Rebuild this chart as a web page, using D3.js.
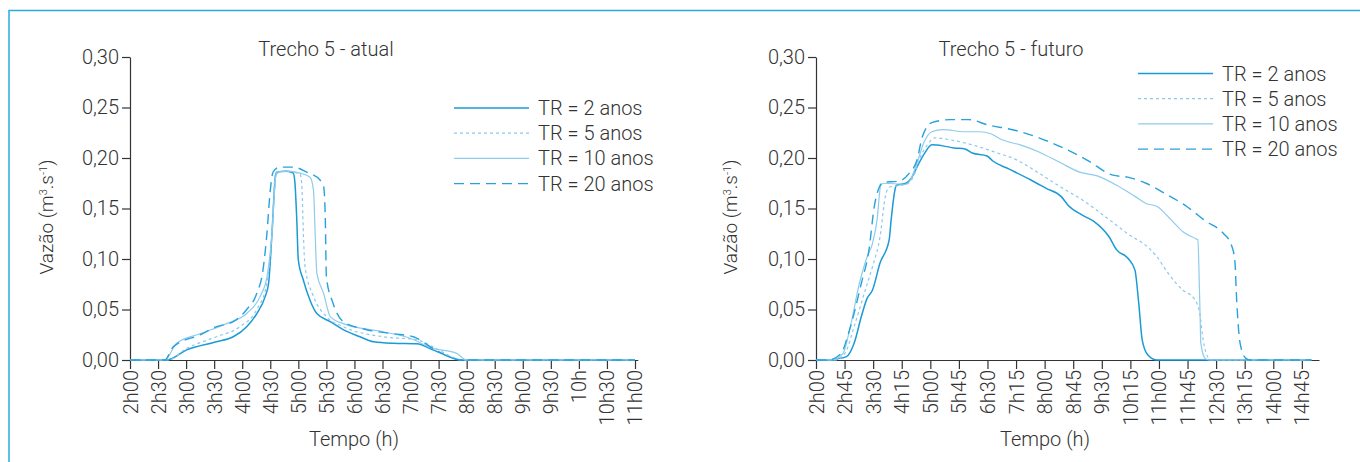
<!DOCTYPE html>
<html>
<head>
<meta charset="utf-8">
<script src="https://cdn.jsdelivr.net/npm/d3@7"></script>
<style>
  body { margin: 0; background: #fff; }
  text { font-family: Roboto, "Open Sans", sans-serif; font-weight: 300; fill: #333; }
</style>
</head>
<body>
<svg id="chart" width="1360" height="462"></svg>
<script>
// tick labels
var yTicks = [0, 0.05, 0.10, 0.15, 0.20, 0.25, 0.30];
var atualTickLabels = ["2h00","2h30","3h00","3h30","4h00","4h30","5h00","5h30","6h00","6h30",
  "7h00","7h30","8h00","8h30","9h00","9h30","10h","10h30","11h00"];
var futuroTickLabels = ["2h00","2h45","3h30","4h15","5h00","5h45","6h30","7h15","8h00","8h45",
  "9h30","10h15","11h00","11h45","12h30","13h15","14h00","14h45"];
var seriesNames = ["TR = 2 anos", "TR = 5 anos", "TR = 10 anos", "TR = 20 anos"];

// Trecho 5 - atual  [hora, vazão]
var atualTR2 = [[2,0],[2.66,0],[3.01,0.010],[3.54,0.018],[3.84,0.023],[4.08,0.033],[4.26,0.046],
  [4.41,0.063],[4.47,0.076],[4.53,0.125],[4.59,0.181],[4.61,0.186],[4.79,0.187],[4.91,0.185],
  [4.94,0.175],[4.97,0.142],[5.0,0.099],[5.09,0.079],[5.21,0.059],[5.33,0.046],[5.57,0.038],
  [5.80,0.030],[6.10,0.023],[6.34,0.018],[6.69,0.0165],[7.11,0.016],[7.40,0.010],[7.70,0.003],
  [7.88,0],[11,0]];
var atualTR5 = [[2,0],[2.68,0],[3.01,0.0115],[3.54,0.023],[3.96,0.033],[4.26,0.050],[4.44,0.076],
  [4.53,0.125],[4.59,0.184],[4.79,0.187],[5.03,0.184],[5.06,0.175],[5.09,0.125],[5.12,0.092],
  [5.27,0.063],[5.50,0.043],[5.80,0.033],[6.51,0.023],[7.11,0.020],[7.40,0.013],[7.76,0.0026],
  [7.92,0],[11,0]];
var atualTR10 = [[2,0],[2.62,0],[2.83,0.0165],[3.25,0.026],[3.72,0.036],[4.08,0.046],[4.32,0.063],
  [4.44,0.082],[4.53,0.125],[4.59,0.178],[4.61,0.186],[4.79,0.187],[5.03,0.185],[5.21,0.181],
  [5.27,0.168],[5.30,0.125],[5.33,0.086],[5.45,0.066],[5.57,0.043],[5.80,0.036],[6.51,0.028],
  [6.99,0.0215],[7.40,0.0115],[7.82,0.0066],[8.0,0],[11,0]];
var atualTR20 = [[2,0],[2.62,0],[2.77,0.013],[3.25,0.025],[3.54,0.033],[3.84,0.038],[4.08,0.050],
  [4.26,0.066],[4.37,0.089],[4.44,0.125],[4.50,0.168],[4.55,0.186],[4.67,0.191],[4.91,0.191],
  [5.15,0.186],[5.39,0.178],[5.45,0.172],[5.48,0.142],[5.50,0.082],[5.62,0.056],[5.80,0.038],
  [6.22,0.030],[6.69,0.026],[7.05,0.023],[7.40,0.0115],[7.76,0.0016],[7.92,0],[11,0]];

// Trecho 5 - futuro  [hora, vazão]
var futuroTR2 = [[2,0],[2.45,0],[2.61,0.0016],[2.80,0.0033],[3.0,0.0165],[3.19,0.043],[3.34,0.061],
  [3.48,0.069],[3.68,0.096],[3.92,0.119],[3.97,0.138],[4.07,0.168],[4.11,0.173],[4.36,0.175],
  [4.50,0.180],[4.65,0.191],[4.84,0.204],[5.04,0.213],[5.33,0.212],[5.62,0.210],[5.91,0.209],
  [6.10,0.205],[6.49,0.202],[6.64,0.197],[7.07,0.189],[7.65,0.178],[8.04,0.170],[8.43,0.162],
  [8.62,0.153],[9.01,0.143],[9.30,0.137],[9.69,0.122],[9.89,0.109],[10.18,0.101],[10.37,0.089],
  [10.47,0.056],[10.56,0.020],[10.71,0.005],[10.95,0],[15,0]];
var futuroTR5 = [[2,0],[2.51,0],[2.76,0.0066],[3.0,0.033],[3.29,0.069],[3.48,0.092],[3.68,0.122],
  [3.82,0.162],[3.92,0.171],[4.36,0.174],[4.55,0.181],[4.74,0.201],[4.94,0.214],[5.13,0.220],
  [5.52,0.218],[6.10,0.213],[6.68,0.206],[7.27,0.198],[7.85,0.185],[8.43,0.171],[9.01,0.158],
  [9.59,0.142],[10.18,0.125],[10.76,0.110],[10.95,0.102],[11.24,0.086],[11.63,0.069],
  [11.92,0.061],[12.07,0.046],[12.16,0.020],[12.31,0.0016],[12.41,0],[15,0]];
var futuroTR10 = [[2,0],[2.42,0],[2.71,0.0066],[2.90,0.033],[3.14,0.076],[3.34,0.102],[3.48,0.115],
  [3.60,0.138],[3.70,0.173],[3.77,0.175],[4.36,0.174],[4.50,0.180],[4.65,0.195],[4.84,0.216],
  [5.04,0.226],[5.33,0.228],[5.91,0.226],[6.30,0.226],[6.59,0.224],[6.88,0.218],[7.36,0.213],
  [7.85,0.206],[8.43,0.195],[8.92,0.186],[9.40,0.182],[9.89,0.173],[10.37,0.162],[10.66,0.155],
  [10.95,0.152],[11.34,0.138],[11.63,0.127],[11.97,0.120],[12.02,0.119],[12.07,0.059],
  [12.10,0.0165],[12.21,0.0016],[12.31,0],[15,0]];
var futuroTR20 = [[2,0],[2.32,0],[2.66,0.0066],[2.85,0.026],[3.19,0.076],[3.39,0.109],[3.53,0.152],
  [3.66,0.171],[3.77,0.176],[4.16,0.177],[4.45,0.185],[4.65,0.198],[4.79,0.221],[5.04,0.235],
  [5.52,0.238],[6.01,0.238],[6.49,0.233],[7.27,0.227],[7.85,0.220],[8.43,0.211],[9.11,0.198],
  [9.79,0.183],[10.18,0.181],[10.66,0.175],[11.15,0.165],[11.73,0.152],[12.21,0.138],
  [12.70,0.125],[12.89,0.115],[12.99,0.099],[13.04,0.059],[13.13,0.0165],[13.28,0.0016],
  [13.38,0],[15,0]];

var styles = [
  { color: "#1b9ad6", width: 1.5, dash: null },
  { color: "#8cc8ea", width: 1.2, dash: "3,3" },
  { color: "#8ecbec", width: 1.2, dash: null },
  { color: "#27a2dc", width: 1.4, dash: "10,6" }
];

var svg = d3.select("#chart");

// moldura azul
svg.append("path")
  .attr("d", "M9,462 L9,10.5 L1360,10.5")
  .attr("fill", "none")
  .attr("stroke", "#2aaae0")
  .attr("stroke-width", 1.5);

function drawPanel(opt) {
  var x = d3.scaleLinear().domain(opt.xDomain).range(opt.xRange);
  var y = d3.scaleLinear().domain([0, 0.3]).range([360, 57]);
  var g = svg.append("g");

  var xAxis = d3.axisBottom(x)
    .tickValues(opt.tickValues)
    .tickFormat(function(d, i) { return opt.tickLabels[i]; })
    .tickSize(9).tickSizeOuter(0);
  var gx = g.append("g").attr("transform", "translate(0,360)").call(xAxis);
  gx.selectAll("text")
    .attr("transform", "rotate(-90)")
    .attr("x", -10).attr("y", 0).attr("dy", "0.35em")
    .style("text-anchor", "end")
    .style("font-size", "20px");

  var yAxis = d3.axisLeft(y)
    .tickValues(yTicks)
    .tickFormat(function(d) { return d3.format(".2f")(d).replace(".", ","); })
    .tickSize(8).tickSizeOuter(0);
  var gy = g.append("g").attr("transform", "translate(" + opt.xRange[0] + ",0)").call(yAxis);
  gy.selectAll("text").attr("x", -11).style("font-size", "20px");

  g.selectAll(".domain, .tick line").attr("stroke", "#333").attr("stroke-width", 1.2);
  g.selectAll(".tick text").attr("fill", "#333");

  var line = d3.line()
    .curve(d3.curveMonotoneX)
    .x(function(d) { return x(d[0]); })
    .y(function(d) { return y(d[1]); });
  opt.series.forEach(function(s, i) {
    g.append("path")
      .datum(s)
      .attr("d", line)
      .attr("fill", "none")
      .attr("stroke", styles[i].color)
      .attr("stroke-width", styles[i].width)
      .attr("stroke-dasharray", styles[i].dash);
  });

  g.append("text").attr("x", opt.titleX).attr("y", 56)
    .attr("text-anchor", "middle").style("font-size", "20px").text(opt.title);

  g.append("text").attr("x", opt.xLabelX).attr("y", 446)
    .attr("text-anchor", "middle").style("font-size", "20px").text("Tempo (h)");

  var yl = g.append("text")
    .attr("transform", "translate(" + opt.yLabelX + ",217) rotate(-90)")
    .attr("text-anchor", "middle").style("font-size", "19px");
  yl.append("tspan").text("Vazão (m");
  yl.append("tspan").attr("dy", -6).style("font-size", "11px").text("3");
  yl.append("tspan").attr("dy", 6).text(".s");
  yl.append("tspan").attr("dy", -6).style("font-size", "11px").text("-1");
  yl.append("tspan").attr("dy", 6).text(")");

  var leg = g.append("g");
  seriesNames.forEach(function(name, i) {
    var ly = opt.legendY + i * 25.2;
    leg.append("line")
      .attr("x1", opt.legendX).attr("x2", opt.legendX + 75)
      .attr("y1", ly).attr("y2", ly)
      .attr("stroke", styles[i].color)
      .attr("stroke-width", styles[i].width)
      .attr("stroke-dasharray", styles[i].dash);
    leg.append("text")
      .attr("x", opt.legendX + 84).attr("y", ly).attr("dy", "0.35em")
      .style("font-size", "20px").text(name);
  });
}

drawPanel({
  xDomain: [2, 11.05], xRange: [130, 637.8],
  tickValues: d3.range(0, atualTickLabels.length).map(function(i) { return 2 + i * 0.5; }),
  tickLabels: atualTickLabels,
  series: [atualTR2, atualTR5, atualTR10, atualTR20],
  title: "Trecho 5 - atual", titleX: 326, xLabelX: 354, yLabelX: 53,
  legendX: 454, legendY: 108
});

drawPanel({
  xDomain: [2, 15.2], xRange: [816, 1319],
  tickValues: d3.range(0, futuroTickLabels.length).map(function(i) { return 2 + i * 0.75; }),
  tickLabels: futuroTickLabels,
  series: [futuroTR2, futuroTR5, futuroTR10, futuroTR20],
  title: "Trecho 5 - futuro", titleX: 1011, xLabelX: 1045, yLabelX: 737,
  legendX: 1138, legendY: 73.5
});
</script>
</body>
</html>
